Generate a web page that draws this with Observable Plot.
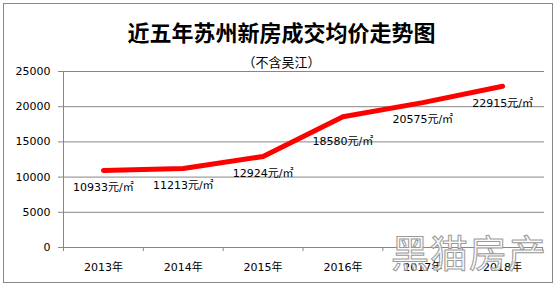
<!DOCTYPE html>
<html><head><meta charset="utf-8">
<script src="https://cdn.jsdelivr.net/npm/d3@7"></script>
<script src="https://cdn.jsdelivr.net/npm/@observablehq/plot@0.6"></script>
<style>
body{margin:0;background:#fff;}
#wrap{position:relative;width:559px;height:286px;overflow:hidden;background:#fff;}
#border{position:absolute;left:3px;top:3px;width:548px;height:278px;border:1px solid #888;box-sizing:content-box;}
#title{position:absolute;left:0;width:563px;top:16px;text-align:center;font:bold 22px "Noto Sans CJK SC";line-height:30px;color:#000;}
#sub{position:absolute;left:0;width:563px;top:53px;text-align:center;font:13px "Noto Sans CJK SC";line-height:18px;color:#000;}
#chart{position:absolute;left:0;top:0;}
#wm{position:absolute;left:391px;top:228px;font:38px "Noto Sans CJK SC";line-height:46px;color:rgba(250,250,250,0.85);-webkit-text-stroke:1px #9a9a9a;letter-spacing:1px;}
</style></head>
<body><div id="wrap"><div id="border"></div><div id="chart"></div>
<div id="title">近五年苏州新房成交均价走势图</div>
<div id="sub">（不含吴江）</div>
<div id="wm">黑猫房产</div></div>
<script>
const categories = ["2013年","2014年","2015年","2016年","2017年","2018年"];
const prices = [10933, 11213, 12924, 18580, 20575, 22915];
const labels = ["10933元/㎡","11213元/㎡","12924元/㎡","18580元/㎡","20575元/㎡","22915元/㎡"];
const yTicks = [0, 5000, 10000, 15000, 20000, 25000];

const data = categories.map((c, i) => ({i, c, v: prices[i], label: labels[i]}));
const bounds = d3.range(categories.length + 1).map(k => k - 0.5);
const font = '"DejaVu Sans", "Noto Sans CJK SC"';

const plot = Plot.plot({
  width: 559, height: 286,
  marginTop: 71, marginBottom: 39, marginLeft: 63, marginRight: 17,
  style: {fontFamily: font, fontSize: "11px", color: "#000", background: "transparent", overflow: "visible"},
  x: {domain: [bounds[0], bounds[bounds.length - 1]], ticks: bounds, tickFormat: () => "", tickSize: 4, tickPadding: 0, label: null},
  y: {domain: [0, 25000], ticks: yTicks, tickSize: 5, tickPadding: 8, tickFormat: d => String(d), label: null},
  marks: [
    Plot.ruleY(yTicks.filter(t => t > 0), {stroke: "#878787", strokeWidth: 1, insetRight: -2}),
    Plot.ruleY([0], {stroke: "#878787"}),
    Plot.ruleX([bounds[0]], {stroke: "#878787"}),
    Plot.line(data, {x: "i", y: "v", stroke: "#ff0000", strokeWidth: 5, strokeLinecap: "round", strokeLinejoin: "round"}),
    Plot.text(data.filter(d => d.i !== 3), {x: "i", y: "v", text: "label", dy: 17, fontSize: 11, fill: "#000"}),
    Plot.text(data.filter(d => d.i === 3), {x: "i", y: "v", text: "label", dy: 25, fontSize: 11, fill: "#000"}),
    Plot.text(data, {x: "i", y: 0, text: "c", dy: 20, fontSize: 11, fill: "#000"})
  ]
});
plot.querySelectorAll('[aria-label="x-axis"] path, [aria-label="y-axis"] path, g[aria-label="x-axis tick"] path, g[aria-label="y-axis tick"] path').forEach(p => p.setAttribute("stroke", "#878787"));
document.getElementById("chart").appendChild(plot);
</script></body></html>
